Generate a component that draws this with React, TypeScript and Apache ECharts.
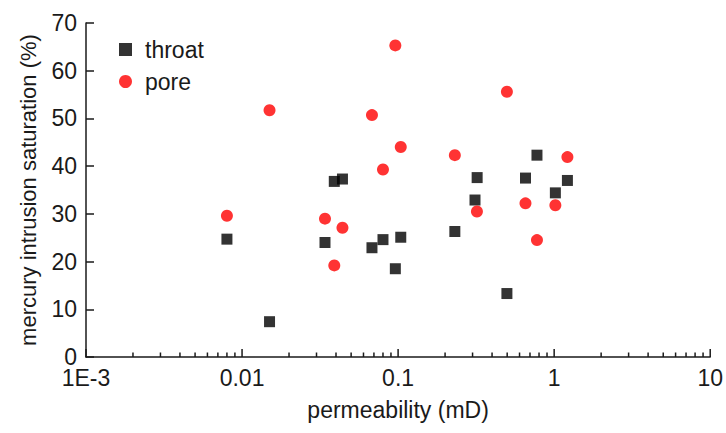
import React, { useEffect, useRef } from "react";
import * as echarts from "echarts";

// permeability (mD) and mercury intrusion saturation (%)
const throatPerm = [0.008, 0.015, 0.034, 0.039, 0.044, 0.068, 0.080, 0.096, 0.104, 0.231, 0.311, 0.321, 0.498, 0.655, 0.776, 1.018, 1.216];
const throatSat = [24.7, 7.4, 24.0, 36.8, 37.3, 22.9, 24.6, 18.5, 25.1, 26.3, 32.9, 37.6, 13.3, 37.5, 42.3, 34.4, 37.0];

const porePerm = [0.008, 0.015, 0.034, 0.039, 0.044, 0.068, 0.080, 0.096, 0.104, 0.231, 0.320, 0.498, 0.655, 0.776, 1.018, 1.216];
const poreSat = [29.6, 51.7, 29.0, 19.2, 27.1, 50.7, 39.3, 65.3, 44.0, 42.3, 30.5, 55.6, 32.2, 24.5, 31.8, 41.9];

// tick positions of the logarithmic x axis
const xMajorTicks = [0.001, 0.01, 0.1, 1, 10];
const xMinorTicks = [
  0.002, 0.003, 0.004, 0.005, 0.006, 0.007, 0.008, 0.009,
  0.02, 0.03, 0.04, 0.05, 0.06, 0.07, 0.08, 0.09,
  0.2, 0.3, 0.4, 0.5, 0.6, 0.7, 0.8, 0.9,
  2, 3, 4, 5, 6, 7, 8, 9,
];

const seriesNames = ["throat", "pore"];
const xName = "permeability (mD)";
const yName = "mercury intrusion saturation (%)";

const FONT = "'Liberation Sans', Arial, sans-serif";
const INK = "#1a1a1a";

export default function App() {
  const ref = useRef<HTMLDivElement>(null);

  useEffect(() => {
    if (!ref.current) return;
    const chart = echarts.init(ref.current, undefined, { renderer: "svg" });
    const pair = (xs: number[], ys: number[]) => xs.map((x, i) => [x, ys[i]]);

    // [x, y, tick length]
    const tickData = [
      ...xMajorTicks.map((v) => [v, 0, 8]),
      ...xMinorTicks.map((v) => [v, 0, 4.5]),
    ];

    chart.setOption({
      animation: false,
      backgroundColor: "#ffffff",
      textStyle: { fontFamily: FONT, color: INK },
      grid: { left: 86, right: 15, top: 23, bottom: 76 },
      legend: {
        data: seriesNames,
        orient: "vertical",
        left: 114,
        top: 33,
        itemWidth: 13,
        itemHeight: 13,
        itemGap: 9,
        textStyle: { fontSize: 23, color: INK, fontFamily: FONT, padding: [0, 0, 0, 8] },
        selectedMode: false,
      },
      xAxis: {
        type: "log",
        logBase: 10,
        min: 0.001,
        max: 10,
        name: xName,
        nameLocation: "middle",
        nameGap: 41,
        nameTextStyle: { fontSize: 23, color: INK, fontFamily: FONT },
        axisLine: { show: true, onZero: false, lineStyle: { color: INK, width: 1.5 } },
        axisTick: { show: false },
        axisLabel: {
          fontSize: 23,
          lineHeight: 18,
          color: INK,
          fontFamily: FONT,
          margin: 11.5,
          formatter: (v: number) => (v < 0.005 ? "1E-3" : String(+v.toPrecision(3))),
        },
        splitLine: { show: false },
        minorTick: { show: false },
      },
      yAxis: {
        type: "value",
        min: 0,
        max: 70,
        interval: 10,
        name: yName,
        nameLocation: "middle",
        nameGap: 47,
        nameTextStyle: { fontSize: 22, color: INK, fontFamily: FONT },
        axisLine: { show: true, lineStyle: { color: INK, width: 1.5 } },
        axisTick: { show: true, inside: true, length: 8, lineStyle: { color: INK, width: 1.5 } },
        axisLabel: { fontSize: 23, lineHeight: 18, color: INK, fontFamily: FONT, margin: 9 },
        splitLine: { show: false },
      },
      series: [
        {
          name: "ticks",
          type: "custom",
          silent: true,
          clip: false,
          z: 1,
          data: tickData,
          renderItem: (params: any, api: any) => {
            const p = api.coord([api.value(0), api.value(1)]);
            const len = api.value(2);
            return {
              type: "line",
              shape: { x1: p[0], y1: p[1], x2: p[0], y2: p[1] - len },
              style: { stroke: INK, lineWidth: 1.5 },
            };
          },
        },
        {
          name: seriesNames[0],
          type: "scatter",
          symbol: "rect",
          symbolSize: 11,
          itemStyle: { color: "#000000" },
          data: pair(throatPerm, throatSat),
          z: 3,
        },
        {
          name: seriesNames[1],
          type: "scatter",
          symbol: "circle",
          symbolSize: 12,
          itemStyle: { color: "#ff0000" },
          data: pair(porePerm, poreSat),
          z: 4,
        },
      ],
    });

    return () => chart.dispose();
  }, []);

  return (
    <div
      ref={ref}
      style={{ position: "fixed", left: 0, top: 0, width: 726, height: 433, background: "#fff" }}
    />
  );
}
